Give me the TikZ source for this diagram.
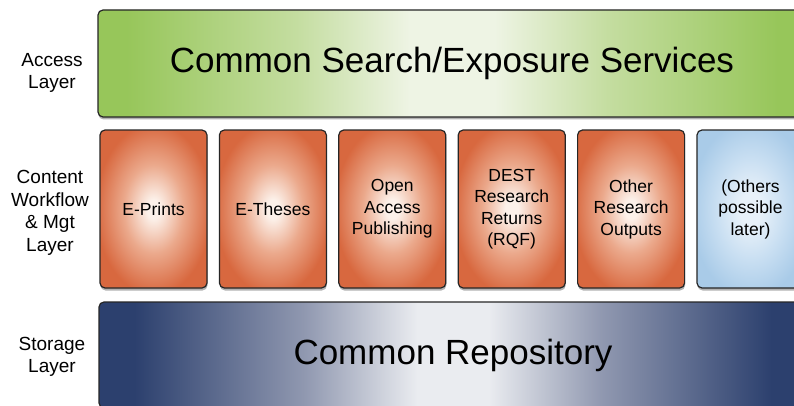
\documentclass[tikz,border=0pt]{standalone}
\usepackage{fontspec}
\setmainfont{Liberation Sans}
\usetikzlibrary{shadows}
\definecolor{gIn}{HTML}{EEF4E4}
\definecolor{gMid}{HTML}{C4DDA0}
\definecolor{gOut}{HTML}{97C65A}
\definecolor{oIn}{HTML}{FCF1EA}
\definecolor{oMid}{HTML}{EBA98C}
\definecolor{oOut}{HTML}{D8683F}
\definecolor{lIn}{HTML}{E8F1F9}
\definecolor{lMid}{HTML}{C9DFF2}
\definecolor{lOut}{HTML}{A9CBE8}
\definecolor{bIn}{HTML}{EAECF0}
\definecolor{bMid}{HTML}{9098B0}
\definecolor{bOut}{HTML}{2C406E}
\pgfdeclarehorizontalshading{gshade}{100bp}{color(0bp)=(gOut); color(27bp)=(gOut); color(39bp)=(gMid); color(47bp)=(gIn); color(53bp)=(gIn); color(61bp)=(gMid); color(73bp)=(gOut); color(100bp)=(gOut)}
\pgfdeclarehorizontalshading{bshade}{100bp}{color(0bp)=(bOut); color(27.5bp)=(bOut); color(39.5bp)=(bMid); color(47.5bp)=(bIn); color(52.5bp)=(bIn); color(60.5bp)=(bMid); color(72.5bp)=(bOut); color(100bp)=(bOut)}
\pgfdeclareradialshading{oshade}{\pgfpoint{0bp}{0bp}}{color(0bp)=(oIn); color(3bp)=(oIn); color(14bp)=(oMid); color(27bp)=(oOut); color(50bp)=(oOut)}
\pgfdeclareradialshading{lshade}{\pgfpoint{0bp}{0bp}}{color(0bp)=(lIn); color(5bp)=(lIn); color(16bp)=(lMid); color(28bp)=(lOut); color(50bp)=(lOut)}
\tikzset{
  panel/.style={draw=black!85, line width=1.2pt, rounded corners=5pt, inner sep=0pt,
    drop shadow={shadow xshift=0.5pt, shadow yshift=-2.5pt, opacity=0.3, fill=black}},
  bigbar/.style={panel, minimum width=708pt, font=\fontsize{35}{40}\selectfont},
  card/.style={panel, minimum width=107pt, minimum height=158pt, align=center,
    font=\fontsize{17.5}{21.5}\selectfont},
  layerlabel/.style={align=center, font=\fontsize{19}{22.5}\selectfont, inner sep=0pt}
}
\begin{document}
\begin{tikzpicture}[x=1pt,y=1pt]
\useasboundingbox (0,0) rectangle (794,405);
\clip (0,0) rectangle (794,405);
\fill[white] (0,0) rectangle (794,405);
\node[bigbar, minimum height=107pt, shading=gshade] (access) at (452,341.5) {Common Search/Exposure Services};
\node[card, shading=oshade] (eprints) at (153.5,196) {E-Prints};
\node[card, shading=oshade] (etheses) at (272.9,196) {E-Theses};
\node[card, shading=oshade] (oap) at (392.3,196) {Open\\Access\\Publishing};
\node[card, shading=oshade] (dest) at (511.7,196) {DEST\\Research\\Returns\\(RQF)};
\node[card, shading=oshade] (other) at (631.1,196) {Other\\Research\\Outputs};
\node[card, shading=lshade] (later) at (750.5,196) {(Others\\possible\\later)};
\node[bigbar, minimum height=106pt, shading=bshade] (repo) at (453,50) {Common Repository};
\node[layerlabel] (lacc) at (52,332) {Access\\Layer};
\node[layerlabel] (lcon) at (50,192) {Content\\Workflow\\\& Mgt\\Layer};
\node[layerlabel] (lsto) at (52,48) {Storage\\Layer};
\end{tikzpicture}
\end{document}
